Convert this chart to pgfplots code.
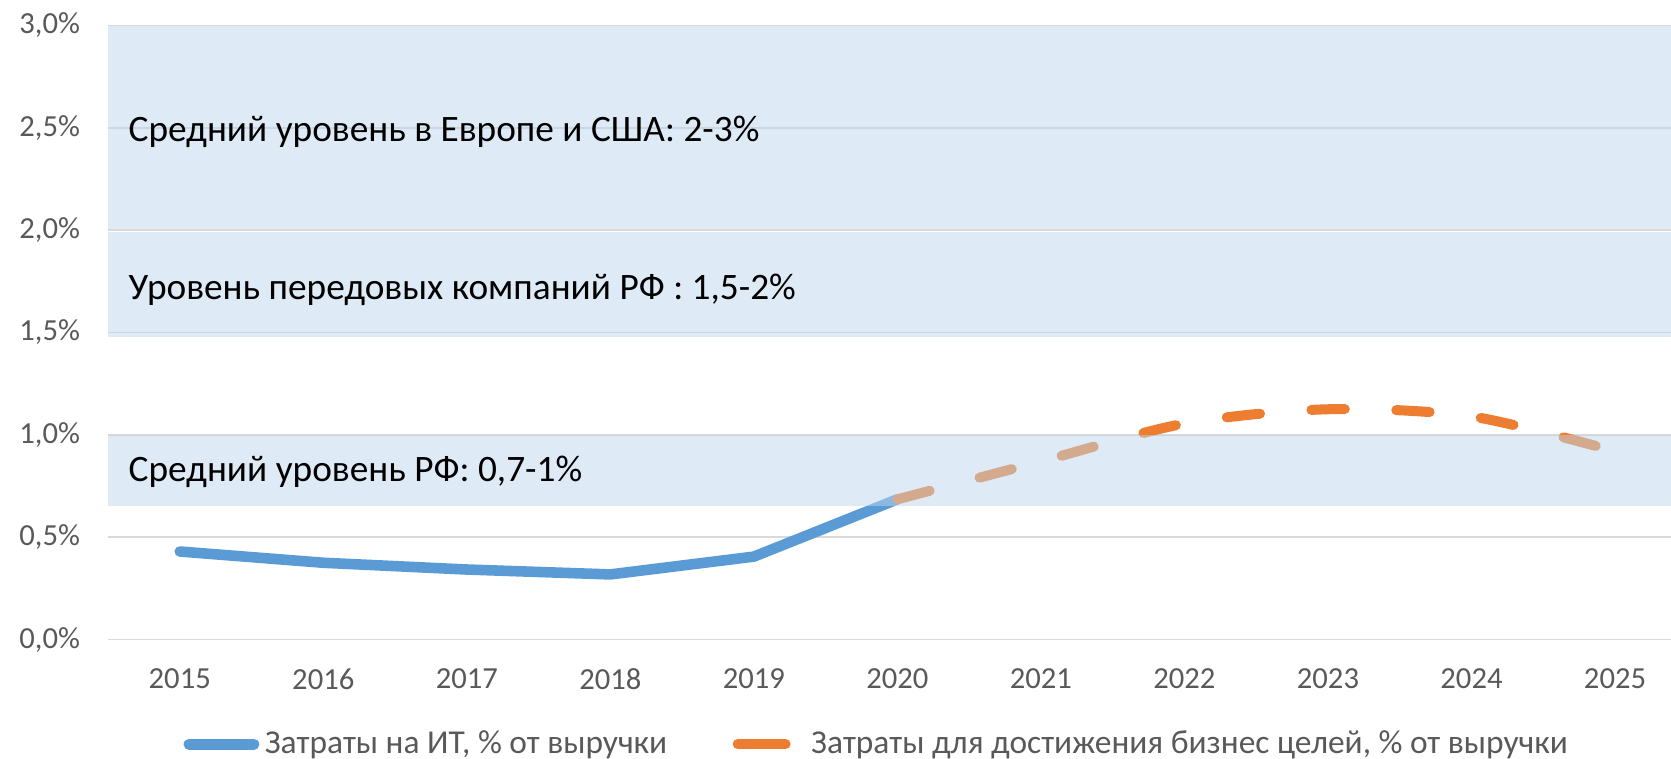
\documentclass[border=0pt]{standalone}
\usepackage{pgfplots}
\pgfplotsset{compat=1.18}
\usepackage{fontspec}
\setmainfont{Carlito}
\usetikzlibrary{calc}
\definecolor{itblue}{HTML}{5B9BD5}
\definecolor{bizorange}{HTML}{ED7D31}
\definecolor{bandblue}{HTML}{BDD7EE}
\definecolor{gridgray}{HTML}{D9D9D9}
\definecolor{ticktext}{HTML}{595959}
\begin{document}
\begin{tikzpicture}
\begin{axis}[
  scale only axis, width=561.3pt, height=220.5pt,
  xmin=2014.5, xmax=2025.39, ymin=0, ymax=3,
  axis line style={draw=none},
  xtick={2015,2016,2017,2018,2019,2020,2021,2022,2023,2024,2025},
  xticklabels={2015,2016,2017,2018,2019,2020,2021,2022,2023,2024,2025},
  ytick={0,0.5,1,1.5,2,2.5,3},
  yticklabels={{0,0\%},{0,5\%},{1,0\%},{1,5\%},{2,0\%},{2,5\%},{3,0\%}},
  major tick length=0pt,
  ymajorgrids, grid style={gridgray, line width=0.7pt},
  tick label style={font=\fontsize{11}{13}\selectfont, text=ticktext},
  yticklabel style={xshift=-6.5pt},
  xticklabel style={yshift=-7pt},
  legend columns=2,
  legend style={at={(0.048,-0.1706)}, anchor=west, draw=none, fill=none,
    inner sep=0pt, font=\fontsize{12}{14}\selectfont, text=ticktext,
    /tikz/every even column/.append style={column sep=21.5pt}},
]
\addplot[color=itblue, line width=3.8pt, line cap=round, line join=round,
  legend image code/.code={\path (0pt,0pt) -- (22pt,0pt); \draw[itblue, solid, line width=3.8pt, line cap=round] (1.8pt,0pt) -- (23.4pt,0pt);}]
  coordinates {(2015,0.43) (2016,0.375) (2017,0.342) (2018,0.318) (2019,0.405) (2020,0.685)};
\addlegendentry{Затраты на ИТ, \% от выручки}
\addplot[color=bizorange, line width=3.6pt, line cap=round, smooth, dash pattern=on 12pt off 18.5pt,
  legend image code/.code={\path (0pt,0pt) -- (22.6pt,0pt); \draw[bizorange, solid, line width=3.6pt, line cap=round] (1.8pt,0pt) -- (17.2pt,0pt);}]
  coordinates {(2020,0.685) (2021,0.87) (2022,1.055) (2023,1.125) (2024,1.09) (2025,0.92)};
\addlegendentry{Затраты для достижения бизнес целей, \% от выручки}
\addplot[draw=none, fill=bandblue, fill opacity=0.5, forget plot]
  coordinates {(2014.5,2.005) (2025.39,2.005) (2025.39,3) (2014.5,3)} -- cycle;
\addplot[draw=none, fill=bandblue, fill opacity=0.5, forget plot]
  coordinates {(2014.5,1.48) (2025.39,1.48) (2025.39,1.99) (2014.5,1.99)} -- cycle;
\addplot[draw=none, fill=bandblue, fill opacity=0.5, forget plot]
  coordinates {(2014.5,0.65) (2025.39,0.65) (2025.39,1.0) (2014.5,1.0)} -- cycle;
\node[anchor=west, inner sep=0pt, font=\fontsize{13.4}{16}\selectfont] at (axis cs:2014.64,2.48) {Средний уровень в Европе и США: 2-3\%};
\node[anchor=west, inner sep=0pt, font=\fontsize{13.4}{16}\selectfont] at (axis cs:2014.64,1.71) {Уровень передовых компаний РФ : 1,5-2\%};
\node[anchor=west, inner sep=0pt, font=\fontsize{13.4}{16}\selectfont] at (axis cs:2014.64,0.82) {Средний уровень РФ: 0,7-1\%};
\end{axis}
\pgfresetboundingbox
\path[use as bounding box] ($(current axis.south west)+(-38.78pt,-42.91pt)$) rectangle ($(current axis.north east)+(0pt,9.16pt)$);
\end{tikzpicture}
\end{document}
